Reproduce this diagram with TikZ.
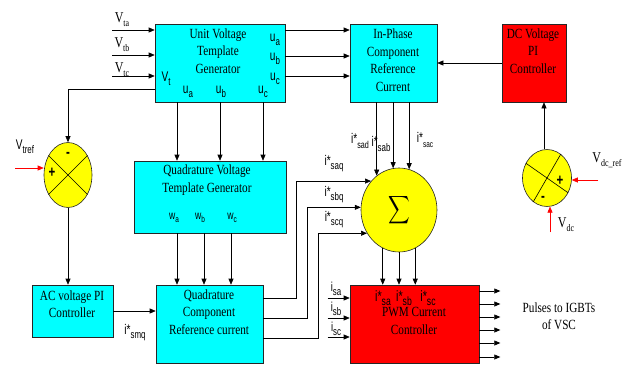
\documentclass[tikz,border=0pt]{standalone}
\usepackage{graphicx}
\usepackage{fontspec}
\setmainfont{Liberation Serif}[FakeStretch=0.8]
\setsansfont{Liberation Sans}[FakeStretch=0.72]
\usetikzlibrary{shapes.geometric, arrows.meta, positioning}

\definecolor{blockcyan}{RGB}{0,255,255}
\definecolor{blockred}{RGB}{255,0,0}
\definecolor{cmpyellow}{RGB}{255,255,0}
\newcommand{\lo}[2][11]{\raisebox{-0.55ex}{\fontsize{#1}{#1}\selectfont #2}}

\begin{document}
\begin{tikzpicture}[x=1pt, y=-1pt, >={Triangle[length=6pt,width=5pt]}, line width=0.6pt,
    box/.style={draw=black!85, rectangle, inner sep=0pt},
    txt/.style={align=center, inner sep=0pt, font=\fontsize{14}{17.5}\selectfont},
    lbl/.style={inner sep=0pt, font=\sffamily\fontsize{14}{14}\selectfont},
    vlbl/.style={inner sep=0pt, font=\fontsize{15}{15}\selectfont},
    sgn/.style={inner sep=0pt, font=\sffamily\bfseries\fontsize{16}{16}\selectfont},
    cmp/.style={draw=black!85, ellipse, fill=cmpyellow, inner sep=0pt},
    redarr/.style={->, draw=blockred, fill=blockred}]

  \useasboundingbox (0,0) rectangle (629,367);

  % blocks
  \node[box, fill=blockcyan, minimum width=130pt, minimum height=78pt] (uvtg) at (220,63) {};
  \node[box, fill=blockcyan, minimum width=87pt, minimum height=78pt] (inph) at (393.5,63) {};
  \node[box, fill=blockred, minimum width=64pt, minimum height=78pt] (dcpi) at (534,63) {};
  \node[box, fill=blockcyan, minimum width=152pt, minimum height=72pt] (qvtg) at (210,197) {};
  \node[box, fill=blockcyan, minimum width=81pt, minimum height=52pt] (acpi) at (72.5,311) {};
  \node[box, fill=blockcyan, minimum width=107pt, minimum height=78pt] (qcrc) at (209.5,324) {};
  \node[box, fill=blockred, minimum width=129pt, minimum height=78pt] (pwm) at (414.5,324) {};
  \node[cmp, minimum width=76pt, minimum height=84pt] (sum) at (399,210)
    {\scalebox{1.5}[1.95]{$\displaystyle\sum$}};
  \node[cmp, minimum width=48pt, minimum height=65pt] (errL) at (68,175) {};
  \node[cmp, minimum width=49pt, minimum height=57pt] (errR) at (547,178) {};
  \draw (errL.45) -- (errL.225) (errL.135) -- (errL.315);
  \draw (errR.145) -- (errR.325) (errR.60) -- (errR.240);

  % block texts
  \node[txt] (uvtgtxt) at (218,51) {Unit Voltage\\Template\\Generator};
  \node[txt] (inphtxt) at (393,60) {In-Phase\\Component\\Reference\\Current};
  \node[txt] (dcpitxt) at (533,51) {DC Voltage\\PI\\Controller};
  \node[txt] (qvtgtxt) at (207,180) {Quadrature Voltage\\Template Generator};
  \node[txt] (acpitxt) at (72,304) {AC voltage PI\\Controller};
  \node[txt] (qcrctxt) at (209,312) {Quadrature\\Component\\Reference current};
  \node[txt] (pwmtxt) at (414,321) {PWM Current\\Controller};
  \node[txt] (pulses) at (559,316) {Pulses to IGBTs\\of VSC};

  % port labels
  \node[vlbl] (lvta) at (122,20) {V\lo[10]{ta}};
  \node[vlbl] (lvtb) at (122,45) {V\lo[10]{tb}};
  \node[vlbl] (lvtc) at (122,70) {V\lo[10]{tc}};
  \node[lbl] (lvt) at (166,79) {V\lo{t}};
  \node[lbl] (lua) at (275,40) {u\lo{a}};
  \node[lbl] (lub) at (275,59) {u\lo{b}};
  \node[lbl] (luc) at (275,79) {u\lo{c}};
  \node[lbl] (lua2) at (188,92) {u\lo{a}};
  \node[lbl] (lub2) at (221,92) {u\lo{b}};
  \node[lbl] (luc2) at (263,92) {u\lo{c}};
  \node[lbl, font=\sffamily\fontsize{12}{12}\selectfont] (lwa) at (174,218) {w\lo[9]{a}};
  \node[lbl, font=\sffamily\fontsize{12}{12}\selectfont] (lwb) at (200,218) {w\lo[9]{b}};
  \node[lbl, font=\sffamily\fontsize{12}{12}\selectfont] (lwc) at (232,218) {w\lo[9]{c}};
  \node[lbl] (lvtref) at (25,147) {V\lo{tref}};
  \node[vlbl] (lvdcref) at (607,160) {V\lo[10]{dc\_ref}};
  \node[vlbl] (lvdc) at (566,225) {V\lo[10]{dc}};
  \node[lbl] (lsmq) at (135,333) {i*\lo{smq}};
  \node[lbl] (lsaq) at (334,164) {i*\lo{saq}};
  \node[lbl] (lsbq) at (334,195) {i*\lo{sbq}};
  \node[lbl] (lscq) at (334,220) {i*\lo{scq}};
  \node[lbl] (lsad) at (360,141) {i*\lo[10]{sad}};
  \node[lbl] (lsab) at (381,144) {i*\lo{sab}};
  \node[lbl] (lsac) at (425,140) {i*\lo[9]{sac}};
  \node[lbl, font=\sffamily\fontsize{13}{13}\selectfont] (lisa) at (336,289) {i\lo{sa}};
  \node[lbl, font=\sffamily\fontsize{13}{13}\selectfont] (lisb) at (336,309) {i\lo{sb}};
  \node[lbl, font=\sffamily\fontsize{13}{13}\selectfont] (lisc) at (336,329) {i\lo{sc}};
  \node[lbl, font=\sffamily\fontsize{15}{15}\selectfont] (lrsa) at (383,298) {i*\lo[12]{sa}};
  \node[lbl, font=\sffamily\fontsize{15}{15}\selectfont] (lrsb) at (404,298) {i*\lo[12]{sb}};
  \node[lbl, font=\sffamily\fontsize{15}{15}\selectfont] (lrsc) at (428,298) {i*\lo[12]{sc}};
  \node[sgn] (mL) at (68,155) {-};
  \node[sgn] (pL) at (52,173) {+};
  \node[sgn] (pR) at (560,181) {+};
  \node[sgn] (mR) at (543,199) {-};

  % connections
  \foreach \y/\n in {30/ta, 55/tb, 76/tc} {
    \coordinate (\n) at (112,\y);
    \draw[->] (\n) -- (\n -| uvtg.west);
  }
  \draw[->] (uvtg.west |- 0,89) -| (errL.north);
  \draw[->] (errL.south) -- (errL.south |- acpi.north);
  \coordinate (vtrefin) at (15,168);
  \draw[redarr] (vtrefin) -- (vtrefin -| errL.west);
  \foreach \y in {30,56,76}
    \draw[->] (uvtg.east |- 0,\y) -- (inph.west |- 0,\y);
  \foreach \x in {177,220,263}
    \draw[->] (uvtg.south -| \x,0) -- (qvtg.north -| \x,0);
  \foreach \x in {177,204,231}
    \draw[->] (qvtg.south -| \x,0) -- (qcrc.north -| \x,0);
  \draw[->] (acpi.east) -- (acpi.east -| qcrc.west);
  \draw[->] (dcpi.west) -- (dcpi.west -| inph.east);
  \draw[->] (errR.96) -- (errR.96 |- dcpi.south);
  \coordinate (dcrefin) at (598,180);
  \draw[redarr] (dcrefin) -- (dcrefin -| errR.east);
  \draw[redarr] (errR.276 |- 0,232) -- (errR.276);
  \foreach \a in {123,98,76}
    \draw[->] (inph.south -| sum.\a) -- (sum.\a);
  \draw[->] (qcrc.east |- 0,298) -- ++(33,0) |- (sum.134);
  \draw[->] (qcrc.east |- 0,318) -- ++(44,0) |- (sum.176);
  \draw[->] (qcrc.east |- 0,338) -- ++(55,0) |- (sum.216);
  \foreach \a in {247,270,293}
    \draw[->] (sum.\a) -- (sum.\a |- pwm.north);
  \foreach \y in {298,318,337}
    \draw[->] (pwm.west |- 0,\y) ++(-22,0) -- (pwm.west |- 0,\y);
  \foreach \y in {291,304,317,330,343,357}
    \draw[->] (pwm.east |- 0,\y) -- ++(21,0);
\end{tikzpicture}
\end{document}
